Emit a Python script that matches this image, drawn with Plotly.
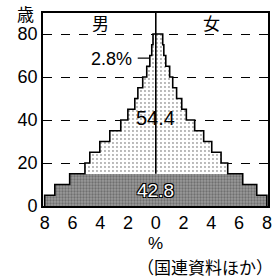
import plotly.graph_objects as go

# ---- data ----
age_start = [0, 5, 10, 15, 20, 25, 30, 35, 40, 45, 50, 55, 60, 65, 70, 75]
male = [8.0, 7.27, 6.2, 5.1, 4.75, 4.03, 3.31, 2.52, 2.01, 1.51, 1.29, 0.94, 0.65, 0.43, 0.29, 0.2]
female = [8.0, 7.27, 6.26, 5.18, 4.7, 4.03, 3.45, 2.8, 2.2, 1.87, 1.5, 1.22, 1.0, 0.72, 0.58, 0.5]
y_ticks = [0, 20, 40, 60, 80]
x_tick_vals = [-8, -6, -4, -2, 0, 2, 4, 6, 8]
x_tick_text = ["8", "6", "4", "2", "0", "2", "4", "6", "8"]
share_young = "42.8"
share_work = "54.4"
share_old = "2.8%"
sex_labels = ["男", "女"]
band = 5

FONT = "Liberation Sans, Arial, Noto Sans CJK JP"
JFONT = "Noto Sans CJK JP, Liberation Sans"

y_mid = [a + band / 2 for a in age_start]

def group(a):
    return 0 if a < 15 else (1 if a < 65 else 2)

bg = {0: "#9a9a9a", 1: "white", 2: "white"}
fg = {0: "#3a3a3a", 1: "#8a8a8a", 2: "#8a8a8a"}
sol = {0: 0.45, 1: 0.18, 2: 0.18}
shape = {0: ".", 1: ".", 2: "."}
sizes = {0: 3, 1: 4, 2: 4}

groups = [group(a) for a in age_start]
pattern = dict(
    shape=[shape[g] for g in groups],
    bgcolor=[bg[g] for g in groups],
    fgcolor=[fg[g] for g in groups],
    solidity=[sol[g] for g in groups],
    size=[sizes[g] for g in groups],
)

fig = go.Figure()
fig.add_trace(go.Bar(
    y=y_mid, x=[-v for v in male], orientation="h", width=band,
    marker=dict(color=[bg[g] for g in groups], line=dict(width=0), pattern=pattern),
    hoverinfo="skip", showlegend=False))
fig.add_trace(go.Bar(
    y=y_mid, x=female, orientation="h", width=band,
    marker=dict(color=[bg[g] for g in groups], line=dict(width=0), pattern=pattern),
    hoverinfo="skip", showlegend=False))

# step outlines built from the data
def outline(vals, sign):
    xs, ys = [], []
    for a, v in zip(age_start, vals):
        xs += [sign * v, sign * v]
        ys += [a, a + band]
    xs.append(0)
    ys.append(age_start[-1] + band)
    return xs, ys

for vals, s in ((male, -1), (female, 1)):
    xs, ys = outline(vals, s)
    fig.add_trace(go.Scatter(x=xs, y=ys, mode="lines",
                             line=dict(color="black", width=1.6),
                             hoverinfo="skip", showlegend=False))

top = 89.8
# centre line (above the 0-14 block)
fig.add_shape(type="line", x0=0, x1=0, y0=15, y1=top, xref="x", yref="y",
              line=dict(color="black", width=1.6), layer="above")
# leader for 2.8%
fig.add_shape(type="line", x0=-1.3, x1=-0.45, y0=68.8, y1=68.8,
              line=dict(color="black", width=1.2))

fig.update_layout(
    width=273, height=280,
    margin=dict(l=43, r=5, t=13, b=74, autoexpand=False),
    paper_bgcolor="white", plot_bgcolor="white",
    barmode="overlay", bargap=0,
    font=dict(family=FONT, size=18, color="black"),
    xaxis=dict(range=[-8.12, 8.08], tickvals=x_tick_vals, ticktext=x_tick_text,
               showgrid=False, zeroline=False, showline=True, mirror=True,
               linecolor="black", linewidth=1.6, ticks="", fixedrange=True,
               automargin=False, tickfont=dict(size=18)),
    yaxis=dict(range=[0, top], tickvals=y_ticks, showgrid=True,
               gridcolor="black", gridwidth=1, griddash="dash",
               zeroline=False, showline=True, mirror=True,
               linecolor="black", linewidth=1.6, ticks="", fixedrange=True,
               automargin=False, tickfont=dict(size=18)),
    annotations=[
        dict(x=-4.0, y=85.6, text=sex_labels[0], showarrow=False,
             font=dict(family=JFONT, size=17)),
        dict(x=4.0, y=85.6, text=sex_labels[1], showarrow=False,
             font=dict(family=JFONT, size=17)),
        dict(x=-3.2, y=68.5, text=share_old, showarrow=False,
             font=dict(size=18)),
        dict(x=0, y=41, text=share_work, showarrow=False,
             font=dict(size=20)),
        dict(x=0, y=7.4, text=share_young, showarrow=False,
             font=dict(size=19, color="white",
                       shadow="1px 1px 0 #000, -1px -1px 0 #000, 1px -1px 0 #000, -1px 1px 0 #000")),
        dict(xref="paper", yref="paper", x=-0.08, y=0.995, xanchor="center",
             yanchor="middle", text="歳",
             showarrow=False, font=dict(family=JFONT, size=17)),
        dict(xref="x", yref="paper", x=0, y=-0.195, xanchor="center",
             yanchor="middle", text="%",
             showarrow=False, font=dict(size=17)),
        dict(xref="paper", yref="paper", x=0.41, xanchor="left", y=-0.315,
             yanchor="middle",
             text="（国連資料ほか）", showarrow=False,
             font=dict(family=JFONT, size=17)),
    ],
)

fig.write_html("out.html", config={"displayModeBar": False},
               post_script="document.body.style.margin='0';")
